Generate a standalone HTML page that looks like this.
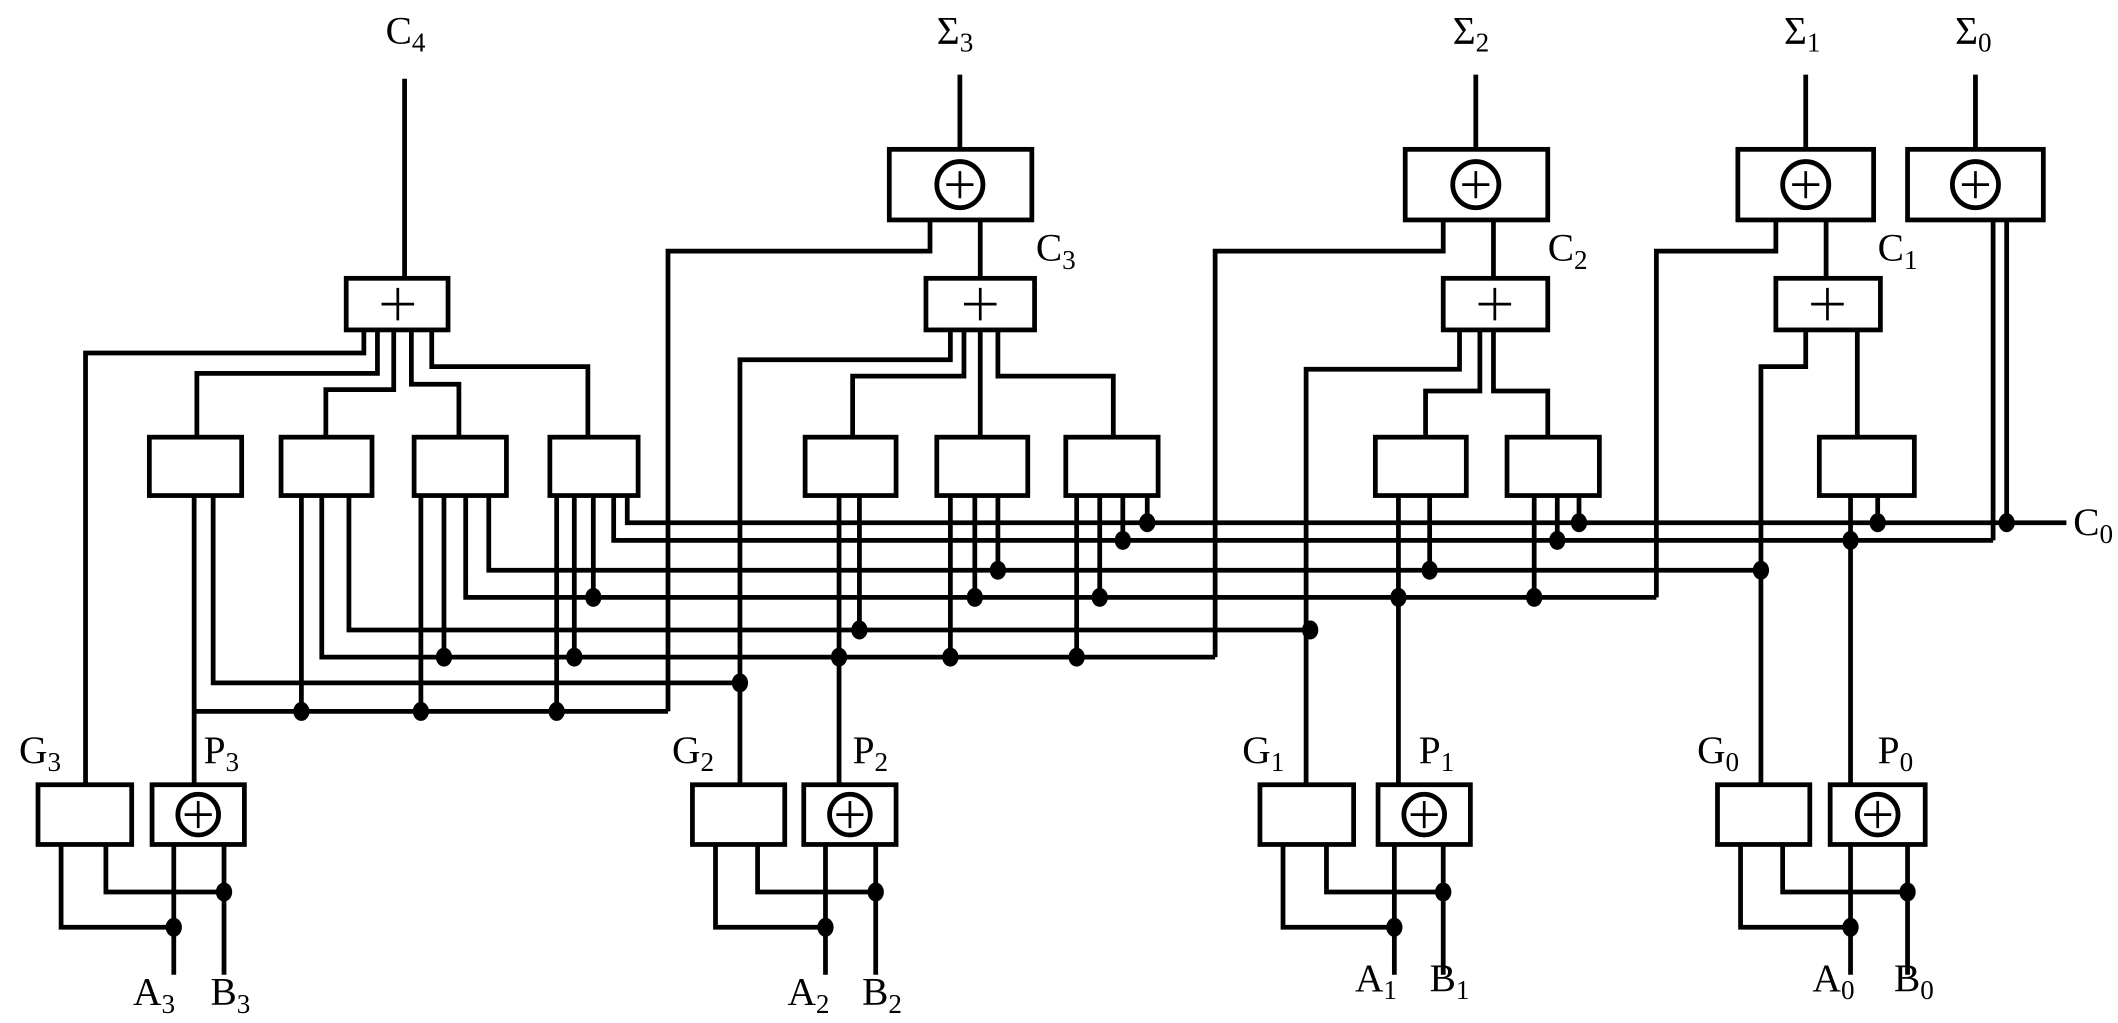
<!DOCTYPE html>
<html><head><meta charset="utf-8"><style>
html,body{margin:0;padding:0;background:#fff;}
svg{display:block;}
text{font-family:"Liberation Serif",serif;font-size:29px;fill:#000;}
.s{font-size:20px;}
</style></head><body>
<svg width="2118" height="1023" viewBox="0 0 1560 753.5" preserveAspectRatio="none" xmlns="http://www.w3.org/2000/svg">
<g fill="none" stroke="#000" stroke-width="3.5" stroke-linejoin="miter">
<rect x="655" y="110" width="105" height="52"/><circle cx="707" cy="136" r="17"/>
<rect x="1035" y="110" width="105" height="52"/><circle cx="1087" cy="136" r="17"/>
<rect x="1280" y="110" width="100" height="52"/><circle cx="1330" cy="136" r="17"/>
<rect x="1405" y="110" width="100" height="52"/><circle cx="1455" cy="136" r="17"/>
<path d="M707 55V110M1087 55V110M1330 55V110M1455 55V110M298 58V205"/>
<rect x="255" y="205" width="75" height="38"/>
<rect x="682" y="205" width="80" height="38"/>
<rect x="1063" y="205" width="77" height="38"/>
<rect x="1308" y="205" width="77" height="38"/>
<rect x="110" y="322" width="68" height="43"/>
<rect x="207" y="322" width="67" height="43"/>
<rect x="305" y="322" width="68" height="43"/>
<rect x="405" y="322" width="65" height="43"/>
<rect x="593" y="322" width="67" height="43"/>
<rect x="690" y="322" width="67" height="43"/>
<rect x="785" y="322" width="68" height="43"/>
<rect x="1013" y="322" width="67" height="43"/>
<rect x="1110" y="322" width="68" height="43"/>
<rect x="1340" y="322" width="70" height="43"/>
<rect x="28" y="578" width="69" height="44"/>
<rect x="112" y="578" width="68" height="44"/><circle cx="146" cy="600" r="15"/>
<rect x="510" y="578" width="68" height="44"/>
<rect x="592" y="578" width="68" height="44"/><circle cx="626" cy="600" r="15"/>
<rect x="928" y="578" width="69" height="44"/>
<rect x="1015" y="578" width="68" height="44"/><circle cx="1049" cy="600" r="15"/>
<rect x="1265" y="578" width="68" height="44"/>
<rect x="1348" y="578" width="70" height="44"/><circle cx="1383" cy="600" r="15"/>
<path d="M268 243V260H63V578M278 243V275H145V322M290 243V287H240V322M303 243V283H338V322M318 243V270H433V322"/>
<path d="M700 243V265H545V578M710 243V277H628V322M722 243V322M735 243V277H820V322M722 162V205"/>
<path d="M1075 243V272H962V578M1090 243V288H1050V322M1100 243V288H1140V322M1100 162V205"/>
<path d="M1330 243V270H1297V578M1368 243V322M1345 162V205"/>
<path d="M685 162V185H492V524M1063 162V185H895V484M1308 162V185H1220V440M1468 162V398M1478 162V385"/>
<path d="M462 365V385H1522M452 365V398H1468M360 365V420H1297M343 365V440H1220M257 365V464H965M237 365V484H895M157 365V503H545M143 365V578M143 524H492"/>
<path d="M222 365V524M327 365V484M310 365V524M410 365V524M423 365V484M437 365V440"/>
<path d="M618 365V578M633 365V464M700 365V484M718 365V440M735 365V420M793 365V484M810 365V440M827 365V398M845 365V385"/>
<path d="M1030 365V578M1053 365V420M1130 365V440M1147 365V398M1163 365V385"/>
<path d="M1363 365V578M1383 365V385"/>
<path d="M45 622V683H128M78 622V657H165M128 622V718M165 622V718"/>
<path d="M527 622V683H608M558 622V657H645M608 622V718M645 622V718"/>
<path d="M945 622V683H1027M977 622V657H1063M1027 622V718M1063 622V718"/>
<path d="M1282 622V683H1363M1313 622V657H1405M1363 622V718M1405 622V718"/>
</g>
<g stroke="#000" stroke-width="2" fill="none">
<path d="M281 224H305M293 212V236M710 224H734M722 212V236M1089 224H1113M1101 212V236M1334 224H1358M1346 212V236"/>
<path d="M697 136H717M707 126V146M1077 136H1097M1087 126V146M1320 136H1340M1330 126V146M1445 136H1465M1455 126V146"/>
<path d="M136 600H156M146 590V610M616 600H636M626 590V610M1039 600H1059M1049 590V610M1373 600H1393M1383 590V610"/>
</g>
<g fill="#000">
<ellipse cx="222" cy="524" rx="6" ry="7"/><ellipse cx="310" cy="524" rx="6" ry="7"/><ellipse cx="410" cy="524" rx="6" ry="7"/>
<ellipse cx="327" cy="484" rx="6" ry="7"/><ellipse cx="423" cy="484" rx="6" ry="7"/><ellipse cx="437" cy="440" rx="6" ry="7"/>
<ellipse cx="545" cy="503" rx="6" ry="7"/><ellipse cx="618" cy="484" rx="6" ry="7"/><ellipse cx="633" cy="464" rx="6" ry="7"/>
<ellipse cx="700" cy="484" rx="6" ry="7"/><ellipse cx="718" cy="440" rx="6" ry="7"/><ellipse cx="735" cy="420" rx="6" ry="7"/>
<ellipse cx="793" cy="484" rx="6" ry="7"/><ellipse cx="810" cy="440" rx="6" ry="7"/><ellipse cx="827" cy="398" rx="6" ry="7"/><ellipse cx="845" cy="385" rx="6" ry="7"/>
<ellipse cx="965" cy="464" rx="6" ry="7"/><ellipse cx="1030" cy="440" rx="6" ry="7"/><ellipse cx="1053" cy="420" rx="6" ry="7"/>
<ellipse cx="1130" cy="440" rx="6" ry="7"/><ellipse cx="1147" cy="398" rx="6" ry="7"/><ellipse cx="1163" cy="385" rx="6" ry="7"/>
<ellipse cx="1297" cy="420" rx="6" ry="7"/><ellipse cx="1363" cy="398" rx="6" ry="7"/><ellipse cx="1383" cy="385" rx="6" ry="7"/><ellipse cx="1478" cy="385" rx="6" ry="7"/>
<ellipse cx="128" cy="683" rx="6" ry="7"/><ellipse cx="165" cy="657" rx="6" ry="7"/>
<ellipse cx="608" cy="683" rx="6" ry="7"/><ellipse cx="645" cy="657" rx="6" ry="7"/>
<ellipse cx="1027" cy="683" rx="6" ry="7"/><ellipse cx="1063" cy="657" rx="6" ry="7"/>
<ellipse cx="1363" cy="683" rx="6" ry="7"/><ellipse cx="1405" cy="657" rx="6" ry="7"/>
</g>
<text x="284" y="32">C<tspan class="s" dy="6">4</tspan></text>
<text x="690" y="32">Σ<tspan class="s" dy="6">3</tspan></text>
<text x="1070" y="32">Σ<tspan class="s" dy="6">2</tspan></text>
<text x="1314" y="32">Σ<tspan class="s" dy="6">1</tspan></text>
<text x="1440" y="32">Σ<tspan class="s" dy="6">0</tspan></text>
<text x="763" y="192">C<tspan class="s" dy="6">3</tspan></text>
<text x="1140" y="192">C<tspan class="s" dy="6">2</tspan></text>
<text x="1383" y="192">C<tspan class="s" dy="6">1</tspan></text>
<text x="1527" y="394">C<tspan class="s" dy="6">0</tspan></text>
<text x="14" y="562">G<tspan class="s" dy="6">3</tspan></text>
<text x="150" y="562">P<tspan class="s" dy="6">3</tspan></text>
<text x="495" y="562">G<tspan class="s" dy="6">2</tspan></text>
<text x="628" y="562">P<tspan class="s" dy="6">2</tspan></text>
<text x="915" y="562">G<tspan class="s" dy="6">1</tspan></text>
<text x="1045" y="562">P<tspan class="s" dy="6">1</tspan></text>
<text x="1250" y="562">G<tspan class="s" dy="6">0</tspan></text>
<text x="1383" y="562">P<tspan class="s" dy="6">0</tspan></text>
<text x="98" y="740">A<tspan class="s" dy="6">3</tspan></text>
<text x="155" y="740">B<tspan class="s" dy="6">3</tspan></text>
<text x="580" y="740">A<tspan class="s" dy="6">2</tspan></text>
<text x="635" y="740">B<tspan class="s" dy="6">2</tspan></text>
<text x="998" y="730">A<tspan class="s" dy="6">1</tspan></text>
<text x="1053" y="730">B<tspan class="s" dy="6">1</tspan></text>
<text x="1335" y="730">A<tspan class="s" dy="6">0</tspan></text>
<text x="1395" y="730">B<tspan class="s" dy="6">0</tspan></text>
</svg>
</body></html>
